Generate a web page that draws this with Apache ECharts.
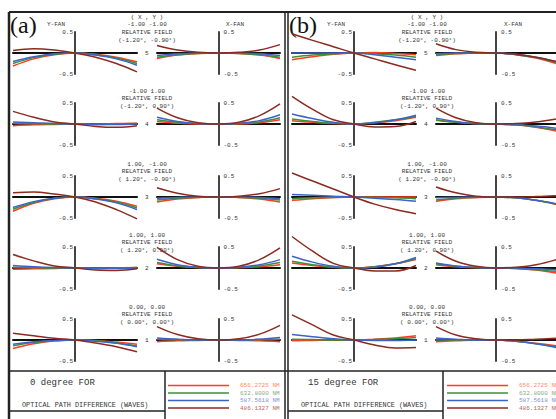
<!DOCTYPE html>
<html>
<head>
<meta charset="utf-8">
<style>html,body{margin:0;padding:0;background:#fff}#chart{width:556px;height:419px}</style>
<script src="https://cdn.jsdelivr.net/npm/echarts@6/dist/echarts.min.js"></script>
</head>
<body>
<div id="chart"></div>
<script>
// pupil coordinate samples shared by every fan
const fanX = [-1, -0.667, -0.333, 0, 0.333, 0.667, 1]
const wavelengths = ['656.2725 NM', '632.8000 NM', '587.5618 NM', '486.1327 NM']
const rowNumbers = ['5', '4', '3', '2', '1']
const fieldNorm = ['-1.00 -1.00', '-1.00 1.00', '1.00, -1.00', '1.00, 1.00', '0.00, 0.00']
const fieldDeg = ['(-1.20°, -0.90°)', '(-1.20°, 0.90°)', '( 1.20°, -0.90°)', '( 1.20°, 0.90°)', '( 0.00°, 0.00°)']
const panelNames = ['(a)', '(b)']
const panelTitles = ['0 degree FOR', '15 degree FOR']
const yTicks = [0.5, -0.5]
const yTickLabels = ['0.5', '-0.5']

// OPD values (waves), order per fan: 656, 632, 587, 486 nm
// panel (a), 0 degree
const a5y = [[-0.31, -0.14, -0.04, 0, -0.03, -0.1, -0.21], [-0.25, -0.11, -0.03, 0, -0.04, -0.12, -0.25], [-0.2, -0.09, -0.02, 0, -0.05, -0.14, -0.29], [0.06, 0.1, 0.07, 0, -0.1, -0.25, -0.45]]
const a5x = [[-0.13, -0.05, -0.01, 0, -0.01, -0.05, -0.13], [-0.1, -0.04, -0.01, 0, -0.01, -0.04, -0.1], [-0.06, -0.02, 0, 0, 0, -0.02, -0.06], [0.18, 0.07, 0.015, 0, 0.015, 0.07, 0.2]]
const a4y = [[-0.04, -0.02, -0.01, 0, 0, 0.01, 0.02], [0.02, 0.01, 0, 0, -0.01, 0, 0.01], [0.05, 0.03, 0.01, 0, -0.01, -0.01, 0], [0.3, 0.16, 0.05, 0, -0.06, -0.08, -0.04]]
const a4x = [[0.06, 0.02, 0, 0, 0, 0.03, 0.1], [0.1, 0.04, 0.01, 0, 0.01, 0.05, 0.15], [0.16, 0.06, 0.01, 0, 0.02, 0.08, 0.22], [0.38, 0.15, 0.03, 0, 0.04, 0.2, 0.48]]
const a3y = [[-0.34, -0.15, -0.04, 0, -0.03, -0.1, -0.22], [-0.29, -0.13, -0.03, 0, -0.04, -0.12, -0.26], [-0.25, -0.11, -0.03, 0, -0.05, -0.14, -0.3], [0.1, 0.12, 0.07, 0, -0.12, -0.3, -0.52]]
const a3x = [[-0.12, -0.05, -0.01, 0, -0.01, -0.05, -0.12], [-0.07, -0.03, -0.01, 0, -0.01, -0.03, -0.07], [-0.03, -0.01, 0, 0, 0, -0.01, -0.04], [0.22, 0.09, 0.02, 0, 0.02, 0.08, 0.2]]
const a2y = [[-0.03, -0.02, -0.01, 0, 0, 0, 0.01], [0.02, 0.01, 0, 0, -0.01, 0, 0.01], [0.06, 0.03, 0.01, 0, -0.01, -0.01, 0], [0.32, 0.17, 0.05, 0, -0.05, -0.06, -0.02]]
const a2x = [[0.1, 0.04, 0.01, 0, 0.01, 0.03, 0.08], [0.13, 0.05, 0.01, 0, 0.01, 0.05, 0.13], [0.21, 0.08, 0.02, 0, 0.02, 0.08, 0.2], [0.49, 0.2, 0.04, 0, 0.04, 0.2, 0.48]]
const a1y = [[-0.2, -0.09, -0.02, 0, -0.01, -0.05, -0.1], [-0.14, -0.06, -0.02, 0, -0.02, -0.07, -0.14], [-0.1, -0.04, -0.01, 0, -0.03, -0.08, -0.16], [0.16, 0.1, 0.04, 0, -0.07, -0.16, -0.28]]
const a1x = [[-0.04, -0.02, -0.01, 0, -0.01, -0.02, -0.04], [0.02, 0.01, 0, 0, 0, 0.01, 0.02], [0.05, 0.02, 0, 0, 0, 0.02, 0.06], [0.32, 0.13, 0.03, 0, 0.03, 0.14, 0.35]]
// panel (b), 15 degree
const b5y = [[-0.16, -0.09, -0.03, 0, 0.01, -0.01, -0.04], [-0.1, -0.05, -0.02, 0, -0.02, -0.05, -0.1], [0, 0, 0, 0, -0.04, -0.1, -0.16], [0.46, 0.3, 0.15, 0, -0.14, -0.28, -0.41]]
const b5x = [[-0.06, -0.02, 0, 0, -0.04, -0.12, -0.25], [-0.04, -0.01, 0, 0, -0.04, -0.11, -0.22], [-0.02, 0, 0, 0, -0.03, -0.1, -0.2], [0.22, 0.08, 0.02, 0, -0.03, -0.1, -0.2]]
const b4y = [[0.08, 0.04, 0.01, 0, 0.03, 0.08, 0.16], [0.12, 0.06, 0.02, 0, 0.04, 0.1, 0.18], [0.24, 0.13, 0.04, 0, 0.03, 0.1, 0.21], [0.66, 0.35, 0.1, 0, -0.07, -0.06, 0.06]]
const b4x = [[0.1, 0.04, 0.01, 0, -0.02, -0.08, -0.17], [0.09, 0.04, 0.01, 0, -0.02, -0.07, -0.14], [0.14, 0.06, 0.01, 0, -0.02, -0.05, -0.1], [0.38, 0.15, 0.03, 0, 0.01, 0.05, 0.12]]
const b3y = [[-0.08, -0.04, -0.01, 0, 0, 0, 0], [-0.04, -0.02, -0.01, 0, -0.01, -0.02, -0.04], [0.06, 0.04, 0.02, 0, -0.03, -0.06, -0.1], [0.57, 0.38, 0.19, 0, -0.17, -0.3, -0.4]]
const b3x = [[-0.1, -0.04, -0.01, 0, -0.02, -0.08, -0.18], [-0.07, -0.03, -0.01, 0, -0.02, -0.08, -0.17], [-0.02, -0.01, 0, 0, -0.02, -0.08, -0.16], [0.24, 0.1, 0.02, 0, 0, 0.01, 0.03]]
const b2y = [[0.12, 0.06, 0.02, 0, 0.03, 0.1, 0.2], [0.16, 0.08, 0.02, 0, 0.03, 0.1, 0.22], [0.28, 0.14, 0.04, 0, 0.02, 0.1, 0.25], [0.75, 0.4, 0.11, 0, -0.07, -0.07, 0.06]]
const b2x = [[0.08, 0.03, 0.01, 0, -0.01, -0.05, -0.12], [0.1, 0.04, 0.01, 0, -0.01, -0.04, -0.08], [0.12, 0.05, 0.01, 0, 0, -0.02, -0.04], [0.4, 0.16, 0.04, 0, 0.02, 0.08, 0.2]]
const b1y = [[-0.02, -0.01, 0, 0, 0.02, 0.05, 0.1], [0.02, 0.01, 0, 0, 0.01, 0.03, 0.06], [0.13, 0.08, 0.03, 0, -0.01, -0.01, 0], [0.6, 0.36, 0.12, 0, -0.12, -0.19, -0.18]]
const b1x = [[-0.04, -0.02, 0, 0, -0.03, -0.08, -0.14], [0, 0, 0, 0, -0.03, -0.09, -0.16], [0.05, 0.02, 0, 0, -0.03, -0.09, -0.18], [0.32, 0.12, 0.03, 0, 0, 0.02, 0.04]]

const fans = [
  { Y: [a5y, a4y, a3y, a2y, a1y], X: [a5x, a4x, a3x, a2x, a1x] },
  { Y: [b5y, b4y, b3y, b2y, b1y], X: [b5x, b4x, b3x, b2x, b1x] },
]

const waveColors = ['#ff3c1e', '#3e8e3e', '#3d62c9', '#8b2a1e']
const legendColors = ['#ff8c64', '#7fae7f', '#7b94dc', '#b8685c']
const mono = '"Liberation Mono", "DejaVu Sans Mono", monospace'
const ink = '#333'

// layout in pixels
const rowAxisY = [53, 124, 197, 268, 340]
const half = 21
const panels = [
  { Y: [13, 124], X: [157, 123], textX: 147, yfanX: 56, xfanX: 235, nameX: 10, border: 9, divider: 165, titleX: 30, legendX: 168 },
  { Y: [292, 124], X: [436, 122], textX: 427, yfanX: 336, xfanX: 513, nameX: 289, border: 288, divider: 443, titleX: 308, legendX: 447 },
]

const grids = []
const gridFans = []
const xAxes = []
const yAxes = []
const series = []
const graphics = []

const txt = (x, y, text, size, align, extra) => ({
  type: 'text', x, y, silent: true,
  style: Object.assign({ text, fontSize: size, fontFamily: mono, fill: ink, textAlign: align || 'center', textVerticalAlign: 'middle', verticalAlign: 'middle' }, extra || {}),
})
const seg = (x1, y1, x2, y2, w) => ({
  type: 'line', silent: true, shape: { x1, y1, x2, y2 }, style: { stroke: '#222', lineWidth: w || 1.5 },
})

panels.forEach((panel, p) => {
  rowAxisY.forEach((axisY, r) => {
    ['Y', 'X'].forEach(fan => {
      const gi = grids.length
      grids.push({ left: panel[fan][0], width: panel[fan][1], top: axisY - half, height: half * 2 })
      gridFans.push(fan)
      xAxes.push({
        gridIndex: gi, type: 'value', min: -1, max: 1,
        axisLine: { onZero: true, lineStyle: { color: '#111', width: 2 } },
        axisTick: { show: false }, axisLabel: { show: false }, splitLine: { show: false },
        name: fan === 'Y' ? rowNumbers[r] : '', nameLocation: 'end', nameGap: 8,
        nameTextStyle: { fontSize: 6, fontFamily: mono, color: ink },
      })
      yAxes.push({
        gridIndex: gi, type: 'value', min: -0.5, max: 0.5, interval: 0.5,
        axisLine: { onZero: true, lineStyle: { color: '#444', width: 2 } },
        axisTick: { show: false }, splitLine: { show: false }, axisLabel: { show: false },
      })
      fans[p][fan][r].forEach((vals, k) => {
        series.push({
          type: 'line', name: wavelengths[k], xAxisIndex: gi, yAxisIndex: gi,
          data: fanX.map((x, i) => [x, vals[i]]),
          smooth: 0.4, symbol: 'none', clip: false, silent: true,
          lineStyle: { color: waveColors[k], width: 1.5 }, itemStyle: { color: waveColors[k] },
        })
      })
    })

    // field header above each row
    const lines = r === 0
      ? [['( X , Y )', -36], [fieldNorm[r], -29], ['RELATIVE FIELD', -21], [fieldDeg[r], -13]]
      : [[fieldNorm[r], -33], ['RELATIVE FIELD', -26], [fieldDeg[r], -18]]
    lines.forEach(([t, dy]) => graphics.push(txt(panel.textX, axisY + dy, t, 6)))
  })

  graphics.push(txt(panel.yfanX, 24, 'Y-FAN', 6))
  graphics.push(txt(panel.xfanX, 24, 'X-FAN', 6))
  graphics.push(txt(panel.nameX, 25, panelNames[p], 24, 'left', { fontFamily: '"Liberation Serif", "DejaVu Serif", serif', fill: '#111' }))
  graphics.push(txt(panel.titleX, 383, panelTitles[p], 9, 'left'))
  graphics.push(txt(panel.border + 13, 405, 'OPTICAL PATH DIFFERENCE (WAVES)', 6.8, 'left'))
  // frame lines of the bottom info box
  graphics.push(seg(panel.divider, 371, panel.divider, 419))
  graphics.push(seg(panel.border, 411, panel.divider, 411))
})

// outer frames
graphics.push(seg(9, 12, 556, 12, 2))
graphics.push(seg(9, 12, 9, 419, 2.5))
graphics.push(seg(285, 12, 285, 419, 1.5))
graphics.push(seg(288, 12, 288, 419, 1.5))
graphics.push(seg(9, 371, 556, 371, 1.5))

const legendData = wavelengths.map((name, k) => ({ name, textStyle: { color: legendColors[k] } }))
const legends = panels.map(panel => ({
  left: panel.legendX, top: 382, padding: 0, orient: 'vertical', icon: 'rect',
  itemWidth: 61, itemHeight: 1.5, itemGap: 0.5,
  selectedMode: false, data: legendData,
  textStyle: { fontSize: 6, lineHeight: 7, fontFamily: mono, padding: [0, 0, 0, 6] },
}))

const chart = echarts.init(document.getElementById('chart'), null, { renderer: 'svg' })
chart.setOption({
  backgroundColor: '#ffffff',
  animation: false,
  grid: grids,
  xAxis: xAxes,
  yAxis: yAxes,
  legend: legends,
  series,
})

// end labels of each vertical axis, placed through the grid's own scale
grids.forEach((g, gi) => {
  const isX = gridFans[gi] === 'X'
  yTicks.forEach((v, t) => {
    const [px, py] = chart.convertToPixel({ gridIndex: gi }, [0, v])
    graphics.push(txt(isX ? px + 5 : px - 2, py, yTickLabels[t], 6, isX ? 'left' : 'right'))
  })
})
chart.setOption({ graphic: { elements: graphics } })
</script>
</body>
</html>
